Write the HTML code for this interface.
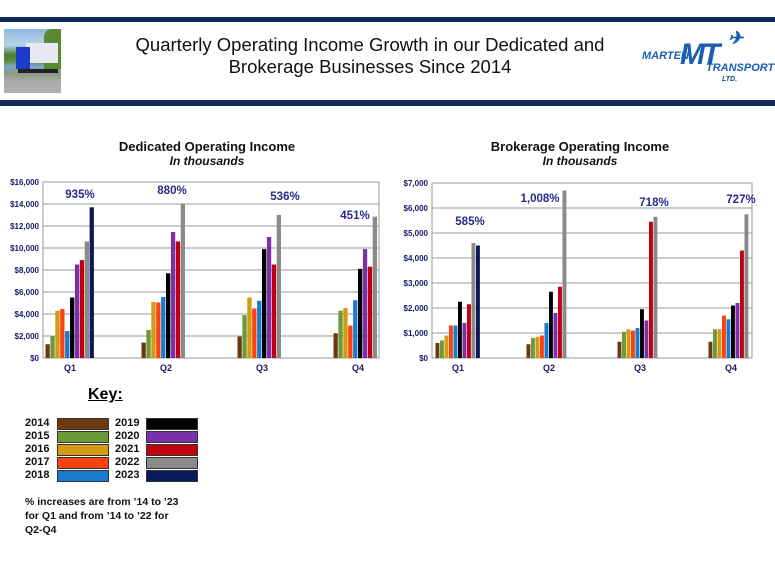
<!DOCTYPE html>
<html><head><meta charset="utf-8"><style>
body{margin:0;width:775px;height:581px;background:#fff;position:relative;overflow:hidden;font-family:"Liberation Sans",sans-serif}
.abs{position:absolute}
.key-label{position:absolute;font-size:11px;font-weight:bold;color:#111}
.sw{position:absolute;width:50px;height:10px;border:1px solid #333}
</style></head><body>
<div class="abs" style="left:0;top:17px;width:775px;height:5px;background:#0f2a5e"></div>
<div class="abs" style="left:0;top:100px;width:775px;height:6px;background:#0f2a5e"></div>
<div class="abs" style="left:4px;top:29px;width:57px;height:64px;overflow:hidden;background:linear-gradient(#8fb8e0 0,#b8d4ec 25%,#4f7f30 40%,#5a8a3a 50%,#7aa8cc 58%,#8a9a80 70%,#a8a8a8 80%,#b0b0b0 100%)">
<div class="abs" style="left:40px;top:0;width:17px;height:40px;background:#5a8a30;border-radius:8px 0 0 0"></div>
<div class="abs" style="left:22px;top:14px;width:32px;height:20px;background:#e8e8f0"></div>
<div class="abs" style="left:12px;top:18px;width:14px;height:22px;background:#1a3cc8"></div>
<div class="abs" style="left:14px;top:40px;width:40px;height:4px;background:#222"></div>
</div>
<div class="abs" style="left:80px;top:34px;width:580px;text-align:center;font-size:18.5px;line-height:22px;color:#111">Quarterly Operating Income Growth in our Dedicated and<br>Brokerage Businesses Since 2014</div>
<div class="abs" style="left:640px;top:34px;width:130px;height:56px;color:#1b5fb0;font-style:italic;font-weight:bold;font-family:'Liberation Sans Narrow','Liberation Sans',sans-serif">
<span class="abs" style="left:2px;top:16px;font-size:11px">MARTEN</span>
<span class="abs" style="left:40px;top:4px;font-size:30px;letter-spacing:-3px">MT</span>
<span class="abs" style="left:66px;top:28px;font-size:11px">TRANSPORT</span>
<span class="abs" style="left:82px;top:42px;font-size:7px;color:#1b4f90">LTD.</span>
<span class="abs" style="left:88px;top:-6px;font-size:18px">✈</span></div>

<svg class="abs" style="left:0;top:0" width="775" height="581">
<g id="ded"></g>
<g id="bro"></g>
</svg>

<div class="abs" style="left:88px;top:386px;font-size:16px;font-weight:bold;text-decoration:underline">Key:</div>
<div id="key"></div>
<div class="abs" style="left:25px;top:495px;font-size:10.5px;font-weight:bold;line-height:14px;color:#111">% increases are from ’14 to ’23<br>for Q1 and from ’14 to ’22 for<br>Q2-Q4</div>

<script>
const years=["2014","2015","2016","2017","2018","2019","2020","2021","2022","2023"];
const colors=["#6b3a10","#6a9a3a","#d49a10","#ff4010","#1a7ad0","#000000","#7a30a8","#c00010","#8a8a8a","#0a1a5a"];
const quarters=["Q1","Q2","Q3","Q4"];
const dedQ1=[1250,2000,4300,4450,2450,5500,8500,8900,10600,13700];
const dedQ2=[1400,2550,5100,5050,5550,7700,11450,10600,14000,null];
const dedQ3=[1950,3900,5500,4500,5200,9900,11000,8500,13000,null];
const dedQ4=[2250,4300,4550,2950,5250,8100,9900,8300,12850,null];
const dedPct=["935%","880%","536%","451%"];
const dedTicks=[0,2000,4000,6000,8000,10000,12000,14000,16000];
const broQ1=[600,700,900,1300,1300,2250,1400,2150,4600,4500];
const broQ2=[550,800,850,900,1400,2650,1800,2850,6700,null];
const broQ3=[650,1050,1150,1100,1200,1950,1500,5450,5650,null];
const broQ4=[650,1150,1150,1700,1550,2100,2200,4300,5750,null];
const broPct=["585%","1,008%","718%","727%"];
const broTicks=[0,1000,2000,3000,4000,5000,6000,7000];

const NS="http://www.w3.org/2000/svg";
function mk(parent,tag,attrs,text){const e=document.createElementNS(NS,tag);for(const k in attrs)e.setAttribute(k,attrs[k]);if(text!==undefined)e.textContent=text;parent.appendChild(e);return e;}
function fmt(v){return "$"+v.toLocaleString("en-US");}

function drawChart(g,cfg){
  const y=v=>cfg.y0-(v/cfg.max)*(cfg.y0-cfg.y1);
  const cx=i=>cfg.c0+i*cfg.step;
  let t=mk(g,"text",{x:cfg.tx,y:151,"text-anchor":"middle","font-size":13,"font-weight":"bold",fill:"#111"},cfg.title);
  
  
  t=mk(g,"text",{x:cfg.tx,y:165,"text-anchor":"middle","font-size":12,"font-weight":"bold","font-style":"italic",fill:"#111"},"In thousands");
  
  
  cfg.ticks.forEach(v=>{
    const l=mk(g,"line",{x1:cfg.x0,x2:cfg.x1,y1:y(v),y2:y(v),stroke:"#999","stroke-width":1});
    
    
    const tl=mk(g,"text",{x:cfg.x0-4,y:y(v)+3,"text-anchor":"end","font-size":8,"font-weight":"bold",fill:"#1a1a6a"},fmt(v));
    
    
  });
  const r=mk(g,"rect",{x:cfg.x0,y:cfg.y1,width:cfg.x1-cfg.x0,height:cfg.y0-cfg.y1,fill:"none",stroke:"#999"});
  
  
  cfg.series.forEach((vals,qi)=>{
    const start=cx(qi)-5*cfg.bw;
    vals.forEach((v,k)=>{
      if(v==null)return;
      const b=mk(g,"rect",{x:start+k*cfg.bw,y:y(v),width:cfg.bw-0.6,height:y(0)-y(v),fill:colors[k]});
      
      
    });
    const ql=mk(g,"text",{x:cx(qi),y:cfg.y0+13,"text-anchor":"middle","font-size":9,"font-weight":"bold",fill:"#1a1a6a"},quarters[qi]);
    
    
    const p=mk(g,"text",{x:cx(qi)+cfg.pdx[qi],y:cfg.py[qi],"text-anchor":"middle","font-size":11.5,"font-weight":"bold",fill:"#2a2a8a"},cfg.pct[qi]);
    
    
  });
}
drawChart(document.getElementById("ded"),{title:"Dedicated Operating Income",tx:207,x0:43,x1:379,y0:358,y1:182,max:16000,c0:70,step:96,bw:4.9,ticks:dedTicks,series:[dedQ1,dedQ2,dedQ3,dedQ4],pct:dedPct,pdx:[10,6,23,-3],py:[198,194,200,219]});
drawChart(document.getElementById("bro"),{title:"Brokerage Operating Income",tx:580,x0:432,x1:752,y0:358,y1:183,max:7000,c0:458,step:91,bw:4.5,ticks:broTicks,series:[broQ1,broQ2,broQ3,broQ4],pct:broPct,pdx:[12,-9,14,10],py:[225,202,206,203]});

const key=document.getElementById("key");
years.forEach((yr,k)=>{
  const col=k<5?0:1,row=k%5;
  const lx=col?115:25,sx=col?146:57,ty=418+row*13;
  const l=document.createElement("div");
  l.className="key-label";l.style.left=lx+"px";l.style.top=(ty-1)+"px";l.textContent=yr;
  
  
  key.appendChild(l);
  const s=document.createElement("div");
  s.className="sw";s.style.left=sx+"px";s.style.top=ty+"px";s.style.background=colors[k];
  
  
  key.appendChild(s);
});
</script>
</body></html>
